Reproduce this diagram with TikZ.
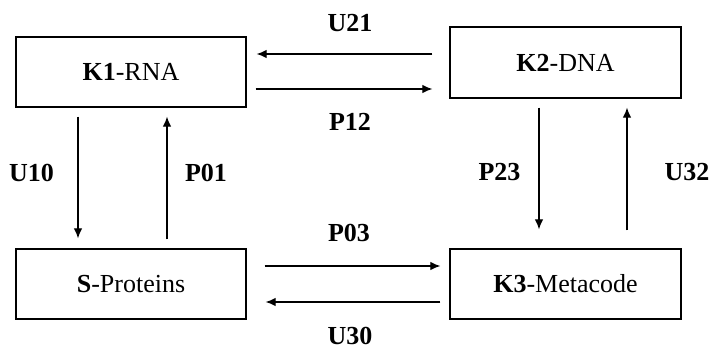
\documentclass[tikz,border=0pt]{standalone}
\usepackage{fontspec}
\setmainfont{Liberation Serif}
\usetikzlibrary{arrows.meta}
\begin{document}
\begin{tikzpicture}[x=1pt,y=-1pt,
  box/.style={draw, line width=1.3pt, minimum height=70pt, inner sep=0pt, font=\fontsize{26}{31}\selectfont},
  lbl/.style={font=\fontsize{26}{31}\selectfont\bfseries, inner sep=0pt},
  arr/.style={line width=1.2pt, -{Latex[length=10pt,width=8.5pt]}}]
\useasboundingbox (0,0) rectangle (712,350);
\node[box, minimum width=230pt] (k1) at (131,72) {\textbf{K1}-RNA};
\node[box, minimum width=231pt, minimum height=71pt] (k2) at (565.5,62.5) {\textbf{K2}-DNA};
\node[box, minimum width=230pt] (s) at (131,284) {\textbf{S}-Proteins};
\node[box, minimum width=231pt] (k3) at (565.5,284) {\textbf{K3}-Metacode};
% horizontal top
\draw[arr, shorten <=17pt, shorten >=10pt] ([yshift=8.5pt]k2.west) -- ([yshift=18pt]k1.east);
\draw[arr, shorten <=9pt, shorten >=17pt] ([yshift=-17pt]k1.east) -- ([yshift=-26.5pt]k2.west);
% left vertical
\draw[arr, shorten <=9pt, shorten >=10pt] ([xshift=-53pt]k1.south) -- ([xshift=-53pt]s.north);
\draw[arr, shorten <=9pt, shorten >=9pt] ([xshift=36pt]s.north) -- ([xshift=36pt]k1.south);
% right vertical
\draw[arr, shorten <=9pt, shorten >=19pt] ([xshift=-26.5pt]k2.south) -- ([xshift=-26.5pt]k3.north);
\draw[arr, shorten <=18pt, shorten >=9pt] ([xshift=61.5pt]k3.north) -- ([xshift=61.5pt]k2.south);
% bottom horizontal
\draw[arr, shorten <=18pt, shorten >=9pt] ([yshift=18pt]s.east) -- ([yshift=18pt]k3.west);
\draw[arr, shorten <=9pt, shorten >=19pt] ([yshift=-18pt]k3.west) -- ([yshift=-18pt]s.east);
% labels
\node[lbl] (u21) at (350,23) {U21};
\node[lbl] (p12) at (350,122) {P12};
\node[lbl] (u10) at (31.5,172.5) {U10};
\node[lbl] (p01) at (206,172.5) {P01};
\node[lbl] (p23) at (499.5,172.5) {P23};
\node[lbl] (u32) at (687,172.5) {U32};
\node[lbl] (p03) at (349,232.5) {P03};
\node[lbl] (u30) at (350,336) {U30};
\end{tikzpicture}
\end{document}
